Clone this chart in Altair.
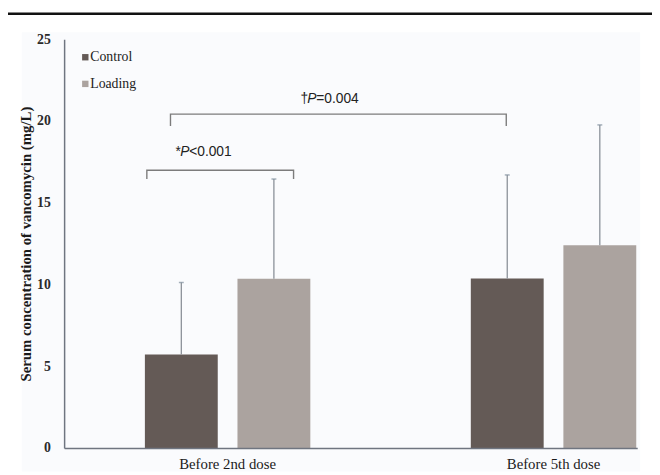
import altair as alt
import pandas as pd

# ---- data ----
categories = ["Before 2nd dose", "Before 5th dose"]
groups = ["Control", "Loading"]
control_means = [5.72, 10.36]
control_sd = [4.40, 6.34]
loading_means = [10.35, 12.40]
loading_sd = [6.10, 7.36]

colors = ["#645a56", "#aba39f"]

rows = []
for i, c in enumerate(categories):
    rows.append({"cat": c, "group": "Control", "mean": control_means[i], "upper": control_means[i] + control_sd[i]})
    rows.append({"cat": c, "group": "Loading", "mean": loading_means[i], "upper": loading_means[i] + loading_sd[i]})
df = pd.DataFrame(rows)

# annotation data (x in plot pixels via a hidden linear scale, y in data units)
bracket_x = [[84, 84, 233, 233], [108, 108, 449, 449]]
bracket_y = [[16.45, 16.99, 16.99, 16.45], [19.70, 20.42, 20.42, 19.70]]
br_rows = []
for b in range(2):
    for k in range(4):
        br_rows.append({"b": b, "o": k, "x": bracket_x[b][k], "y": bracket_y[b][k]})
br_df = pd.DataFrame(br_rows)

ann_prefix = ["*", "\u2020"]
ann_p = ["P", "P"]
ann_rest = ["<0.001", "=0.004"]
ann_x = [113, 240]
ann_x_p = [118, 247]
ann_x_rest = [127, 256]
ann_y = [18.07, 21.33]
ann_df = pd.DataFrame({"prefix": ann_prefix, "p": ann_p, "rest": ann_rest,
                       "x": ann_x, "xp": ann_x_p, "xr": ann_x_rest, "y": ann_y})

legend_df = pd.DataFrame({"label": groups, "x": [21.5, 21.5], "y": [23.9, 22.27]})

W, H = 582, 415

xscale = alt.Scale(domain=categories, paddingInner=0.4924, paddingOuter=0.1254, align=0.988)
offscale = alt.Scale(domain=groups, paddingInner=0.213, paddingOuter=0)
yscale = alt.Scale(domain=[0, 25], nice=False)
cscale = alt.Scale(domain=groups, range=colors)

base = alt.Chart(df)

bars = base.mark_bar().encode(
    x=alt.X("cat:N", scale=xscale, sort=categories,
            axis=alt.Axis(title=None, labelAngle=0, ticks=False, labelPadding=9, zindex=2,
                          labelFont="Liberation Serif", labelFontSize=15, labelColor="#1a1a1a",
                          domainColor="#6f7580", domainWidth=1.5)),
    xOffset=alt.XOffset("group:N", scale=offscale, sort=groups),
    y=alt.Y("mean:Q", scale=yscale,
            axis=alt.Axis(title="Serum concentration of vancomycin (mg/L)", values=[0, 5, 10, 15, 20, 25],
                          grid=False, ticks=False, labelPadding=14, zindex=2,
                          labelFont="Liberation Serif", labelFontSize=14, labelFontWeight="bold",
                          labelColor="#2a2a2a",
                          titleFont="Liberation Serif", titleFontSize=15, titleFontWeight="bold",
                          titleColor="#1a1a1a", titlePadding=3,
                          domainColor="#6f7580", domainWidth=1.5)),
    color=alt.Color("group:N", scale=cscale, legend=None),
)

err = base.mark_rule(color="#8a9098", strokeWidth=1.3).encode(
    x=alt.X("cat:N", scale=xscale, sort=categories),
    xOffset=alt.XOffset("group:N", scale=offscale, sort=groups),
    y=alt.Y("mean:Q", scale=yscale),
    y2="upper:Q",
)

caps = base.mark_tick(color="#7f8f9c", size=5, thickness=1.5, orient="horizontal").encode(
    x=alt.X("cat:N", scale=xscale, sort=categories),
    xOffset=alt.XOffset("group:N", scale=offscale, sort=groups),
    y=alt.Y("upper:Q", scale=yscale),
)

inner = alt.layer(bars, err, caps)

ax = alt.Scale(domain=[0, W], nice=False, zero=False)

brackets = alt.Chart(br_df).mark_line(color="#7c7c7c", strokeWidth=1.4).encode(
    x=alt.X("x:Q", scale=ax, axis=None),
    y=alt.Y("y:Q", scale=yscale),
    detail="b:N",
    order="o:Q",
)

t_prefix = alt.Chart(ann_df).mark_text(align="left", baseline="middle", font="Liberation Sans",
                                       fontSize=14, color="#222222").encode(
    x=alt.X("x:Q", scale=ax, axis=None), y=alt.Y("y:Q", scale=yscale), text="prefix:N")
t_p = alt.Chart(ann_df).mark_text(align="left", baseline="middle", font="Liberation Sans",
                                  fontSize=14, fontStyle="italic", color="#222222").encode(
    x=alt.X("xp:Q", scale=ax, axis=None), y=alt.Y("y:Q", scale=yscale), text="p:N")
t_rest = alt.Chart(ann_df).mark_text(align="left", baseline="middle", font="Liberation Sans",
                                     fontSize=14, color="#222222").encode(
    x=alt.X("xr:Q", scale=ax, axis=None), y=alt.Y("y:Q", scale=yscale), text="rest:N")

leg_sq = alt.Chart(legend_df).mark_square(size=42, opacity=1).encode(
    x=alt.X("x:Q", scale=ax, axis=None),
    y=alt.Y("y:Q", scale=yscale),
    color=alt.Color("label:N", scale=cscale, legend=None),
)
leg_tx = alt.Chart(legend_df).mark_text(align="left", baseline="middle", font="Liberation Serif",
                                        fontSize=14, color="#222222", dx=5).encode(
    x=alt.X("x:Q", scale=ax, axis=None),
    y=alt.Y("y:Q", scale=yscale),
    text="label:N",
)

# decoration: faint panel background and top rule
bg = alt.Chart(pd.DataFrame({"a": [0]})).mark_rect(color="#fafbfd").encode(
    x=alt.value(-43), x2=alt.value(585), y=alt.value(-7), y2=alt.value(439))
topline = alt.Chart(pd.DataFrame({"a": [0]})).mark_rule(color="#111111", strokeWidth=2.5).encode(
    x=alt.value(-57), x2=alt.value(620), y=alt.value(-26))

annot = alt.layer(brackets, t_prefix, t_p, t_rest, leg_sq, leg_tx)

chart = alt.layer(bg, topline, inner, annot).resolve_scale(x="independent", color="shared").properties(
    width=W, height=H,
    autosize=alt.AutoSizeParams(type="none"),
    padding={"left": 57, "top": 28, "right": 15, "bottom": 40},
).configure_view(stroke=None).configure(background="white")

chart.save("out.html", embed_options={"renderer": "svg", "actions": False})
